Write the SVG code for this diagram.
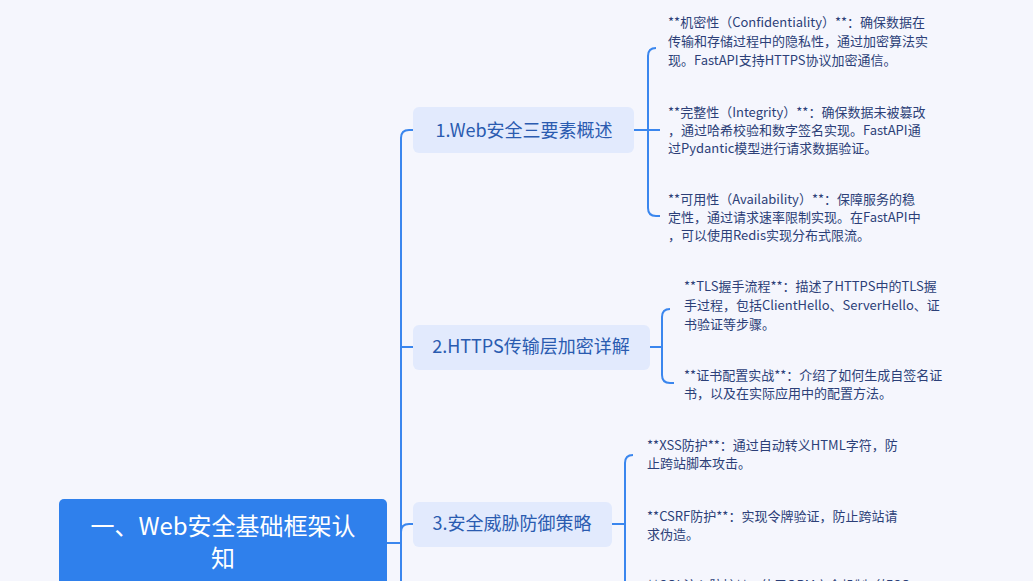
<svg xmlns="http://www.w3.org/2000/svg" width="1033" height="581" viewBox="0 0 1033 581">
<style>
.c{fill:none;stroke:#3a86ee;stroke-width:2}
.n rect{fill:#e2eafd}
.n text{font-family:"Noto Sans CJK SC","Noto Sans",sans-serif;font-size:18px;fill:#2a5bb0;text-anchor:middle}
.l text{font-family:"Noto Sans CJK SC","Noto Sans",sans-serif;font-size:13px;fill:#2c3f78}
</style>
<rect width="1033" height="581" fill="#f5f6fd"/>
<g id="connectors">
<path class="c" d="M387 543H401M401 600V138Q401 130 409 130H413M401 347H413M401 532Q401 524 409 524H413"/>
<path class="c" d="M634 130H660M656 48Q648 48 648 56V208Q648 216 656 216H660"/>
<path class="c" d="M650 347H662M670 309Q662 309 662 317V375Q662 383 670 383H674"/>
<path class="c" d="M612 524H625M633 455Q625 455 625 463V600"/>
</g>
<g id="root"><rect x="59" y="499" width="328" height="100" rx="5" fill="#2f80ec"/>
<text x="223" y="535" font-family="Noto Sans CJK SC,Noto Sans,sans-serif" font-size="24" fill="#fff" text-anchor="middle">一、Web安全基础框架认</text>
<text x="223" y="567" font-family="Noto Sans CJK SC,Noto Sans,sans-serif" font-size="24" fill="#fff" text-anchor="middle">知</text></g>
<g id="n1" class="n"><rect x="413" y="107" width="221" height="46" rx="6"/><text x="524" y="137">1.Web安全三要素概述</text></g>
<g id="n2" class="n"><rect x="413" y="325" width="237" height="45" rx="6"/><text x="531" y="353">2.HTTPS传输层加密详解</text></g>
<g id="n3" class="n"><rect x="413" y="502" width="199" height="45" rx="6"/><text x="512" y="530">3.安全威胁防御策略</text></g>
<g id="l1" class="l"><text x="668" y="27">**机密性（Confidentiality）**：确保数据在</text><text x="668" y="46">传输和存储过程中的隐私性，通过加密算法实</text><text x="668" y="65">现。FastAPI支持HTTPS协议加密通信。</text></g>
<g id="l2" class="l"><text x="668" y="117">**完整性（Integrity）**：确保数据未被篡改</text><text x="668" y="135">，通过哈希校验和数字签名实现。FastAPI通</text><text x="668" y="153">过Pydantic模型进行请求数据验证。</text></g>
<g id="l3" class="l"><text x="668" y="204">**可用性（Availability）**：保障服务的稳</text><text x="668" y="222">定性，通过请求速率限制实现。在FastAPI中</text><text x="668" y="240">，可以使用Redis实现分布式限流。</text></g>
<g id="l4" class="l"><text x="684" y="291">**TLS握手流程**：描述了HTTPS中的TLS握</text><text x="684" y="310">手过程，包括ClientHello、ServerHello、证</text><text x="684" y="329">书验证等步骤。</text></g>
<g id="l5" class="l"><text x="684" y="380">**证书配置实战**：介绍了如何生成自签名证</text><text x="684" y="398">书，以及在实际应用中的配置方法。</text></g>
<g id="l6" class="l"><text x="647" y="450">**XSS防护**：通过自动转义HTML字符，防</text><text x="647" y="468">止跨站脚本攻击。</text></g>
<g id="l7" class="l"><text x="647" y="521">**CSRF防护**：实现令牌验证，防止跨站请</text><text x="647" y="539">求伪造。</text></g>
<g id="l8" class="l"><text x="647" y="590">**SQL注入防护**：使用ORM安全机制（如SQ</text></g>
</svg>
